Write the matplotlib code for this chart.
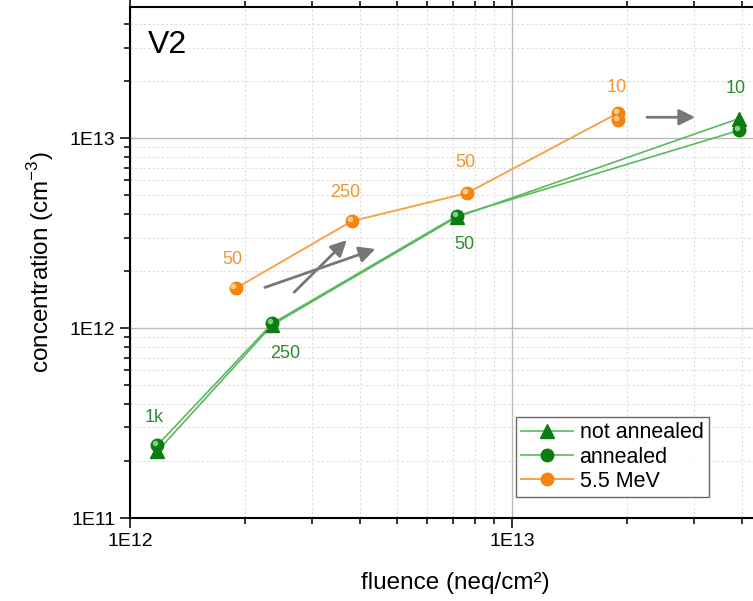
import numpy as np
import matplotlib
matplotlib.use("Agg")
import matplotlib.pyplot as plt
import matplotlib.transforms as mtransforms
from matplotlib.ticker import LogLocator, FixedFormatter, FixedLocator, NullFormatter

plt.rcParams['font.family'] = ['Liberation Sans', 'DejaVu Sans']
plt.rcParams['mathtext.fontset'] = 'custom'
plt.rcParams['mathtext.rm'] = 'Liberation Sans'

# data
fl_not = [1.18e12, 2.36e12, 7.17e12, 3.93e13]
c_not = [2.25e11, 1.04e12, 3.84e12, 1.27e13]
fl_ann = [1.18e12, 2.36e12, 7.17e12, 3.93e13]
c_ann = [2.42e11, 1.06e12, 3.90e12, 1.10e13]
fl_mev = [1.89e12, 3.81e12, 7.62e12, 1.90e13, 1.90e13]
c_mev = [1.62e12, 3.66e12, 5.14e12, 1.36e13, 1.25e13]

# annealing temperature labels
lab_green = ['1k', '250', '50', '10']
lab_green_pos = [(1.16e12, 3.4e11), (2.55e12, 7.4e11), (7.5e12, 2.75e12), (3.85e13, 1.82e13)]
lab_orange = ['50', '250', '50', '10']
lab_orange_pos = [(1.85e12, 2.3e12), (3.65e12, 5.2e12), (7.55e12, 7.5e12), (1.88e13, 1.85e13)]

# arrows (start, end)
arrows = [((2.22e12, 1.62e12), (4.46e12, 2.64e12)),
          ((2.66e12, 1.51e12), (3.74e12, 2.98e12)),
          ((2.22e13, 1.29e13), (3.07e13, 1.29e13))]

green_line = '#5cb85c'
green_mk = '#0b7d12'
orange_line = '#f7a347'
orange_mk = '#f5850f'

fig = plt.figure(figsize=(7.53, 6.01), dpi=100)
ax = fig.add_axes([0.1726, 0.138, 0.8274, 0.850])
ax.set_xscale('log')
ax.set_yscale('log')
ax.set_xlim(1e12, 4.28e13)
ax.set_ylim(1e11, 4.9e13)

ax.plot(fl_not, c_not, '-', color=green_line, lw=1.2, marker='^', ms=10,
        mfc=green_mk, mec=green_mk, label='not annealed', zorder=3)
ax.plot(fl_ann, c_ann, '-', color=green_line, lw=1.2, marker='o', ms=9,
        mfc=green_mk, mec=green_mk, label='annealed', zorder=4)
ax.plot(fl_mev, c_mev, '-', color=orange_line, lw=1.4, marker='o', ms=9,
        mfc=orange_mk, mec=orange_mk, label='5.5 MeV', zorder=4)
# sphere highlights, nudged up-left
shift = ax.transData + mtransforms.ScaledTranslation(-1.5 / 72, 1.5 / 72, fig.dpi_scale_trans)
ax.plot(fl_ann, c_ann, 'o', ms=3, color='#7fcf7f', zorder=5, transform=shift)
ax.plot(fl_mev, c_mev, 'o', ms=3, color='#ffc98a', zorder=5, transform=shift)

for t, (x, y) in zip(lab_green, lab_green_pos):
    ax.text(x, y, t, color='#2e8b2e', fontsize=13, ha='center', va='center')
for t, (x, y) in zip(lab_orange, lab_orange_pos):
    ax.text(x, y, t, color='#f0952f', fontsize=13, ha='center', va='center')

for (s, e) in arrows:
    ax.annotate('', xy=e, xytext=s,
                arrowprops=dict(arrowstyle='-|>', color='#777777', lw=2,
                                mutation_scale=24), zorder=6)

ax.text(0.028, 0.955, 'V2', transform=ax.transAxes, fontsize=23, va='top')

# grid
ax.grid(which='major', color='#bbbbbb', lw=1.0, ls='-')
ax.grid(which='minor', color='#dddddd', lw=0.8, ls=(0, (2, 2)))
ax.set_axisbelow(True)

ax.xaxis.set_major_locator(FixedLocator([1e12, 1e13]))
ax.xaxis.set_major_formatter(FixedFormatter(['1E12', '1E13']))
ax.yaxis.set_major_locator(FixedLocator([1e11, 1e12, 1e13]))
ax.yaxis.set_major_formatter(FixedFormatter(['1E11', '1E12', '1E13']))
ax.xaxis.set_minor_locator(LogLocator(base=10, subs=np.arange(2, 10)))
ax.yaxis.set_minor_locator(LogLocator(base=10, subs=np.arange(2, 10)))
ax.xaxis.set_minor_formatter(NullFormatter())
ax.yaxis.set_minor_formatter(NullFormatter())

ax.tick_params(which='both', direction='out', labelsize=14, width=1.3, color='#222222')
ax.tick_params(which='major', length=7)
ax.tick_params(which='minor', length=4)
ax.tick_params(axis='x', which='both', top=True)
ax.spines['right'].set_visible(False)
for s in ['left', 'bottom', 'top']:
    ax.spines[s].set_linewidth(1.5)

ax.set_xlabel('fluence (neq/cm\u00b2)', fontsize=17.5)
ax.xaxis.set_label_coords(0.522, -0.105)
ax.set_ylabel('concentration (cm$^{-3}$)', fontsize=17.5, labelpad=10)

leg = ax.legend(loc='lower right', bbox_to_anchor=(0.929, 0.041), fontsize=15.5,
                frameon=True, fancybox=False, edgecolor='#444444',
                handlelength=2.4, borderpad=0.25, labelspacing=0.15,
                handletextpad=0.3, borderaxespad=0)
leg.get_frame().set_linewidth(1.0)

fig.savefig('out.png', dpi=100)
